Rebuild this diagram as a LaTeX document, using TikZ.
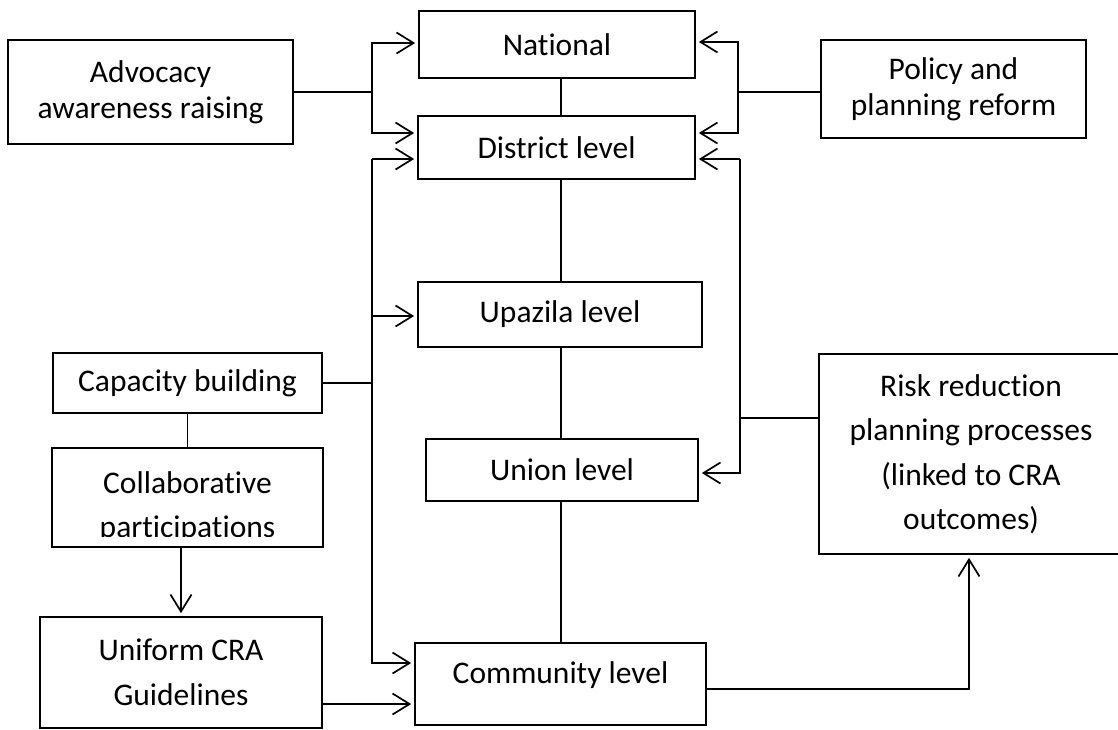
\documentclass[tikz,border=0pt]{standalone}
\usepackage{fontspec}
\setmainfont{Carlito}[Ligatures={NoCommon}]
\usetikzlibrary{arrows.meta}
\begin{document}
\begin{tikzpicture}[x=1pt,y=-1pt,
  line width=1.7pt,
  >={Straight Barb[length=17pt,width=21pt]},
  box/.style={draw, rectangle, inner sep=0pt, align=center,
              font=\fontsize{31.5}{44.5}\selectfont},
  tightbox/.style={box, font=\fontsize{31.5}{36}\selectfont},
  lbl/.style={inner sep=0pt, align=center, font=\fontsize{31.5}{44}\selectfont},
  arr/.style={->, shorten >=3pt}]

\useasboundingbox (0,0) rectangle (1118,729);
\fill[white] (0,0) rectangle (1118,729);
\clip (0,0) rectangle (1118,729);

% ---- administrative levels (centre column) ----
\node[box, minimum width=276, minimum height=67] (nat)   at (557,44.5)  {National};
\node[box, minimum width=277, minimum height=63] (dist)  at (556.5,147.5) {District level};
\node[box, minimum width=284, minimum height=65] (upa)   at (560,314.5) {Upazila level};
\node[box, minimum width=272, minimum height=62] (uni)   at (562,470)   {Union level};
\node[box, minimum width=291, minimum height=82] (comm)  at (560.5,684) {};
\node[lbl] (commtext) at (560.5,675) {Community level};

% ---- side boxes ----
\node[tightbox, minimum width=285, minimum height=104] (adv) at (150.5,92) {Advocacy\\awareness raising};
\node[tightbox, minimum width=265, minimum height=98]  (pol) at (953.5,89) {Policy and\\planning reform};
\node[box, minimum width=269, minimum height=60]  (cap)   at (187.5,383)  {Capacity building};
\node[box, minimum width=271, minimum height=99]  (collab) at (187.5,497.5) {};
\begin{scope}
  \clip (52,448) rectangle (323,536);
  \node[lbl] (collabtext) at (187.5,507) {Collaborative\\participations};
\end{scope}
\node[box, minimum width=282, minimum height=111] (unif) at (181,672.5) {Uniform CRA\\Guidelines};
\node[box, minimum width=304, minimum height=200] (risk) at (971,454)
  {Risk reduction\\planning processes\\(linked to CRA\\outcomes)};

% ---- vertical links between levels ----
\coordinate (spine) at (561,0);
\draw (nat.south -| spine)  -- (dist.north -| spine);
\draw (dist.south -| spine) -- (upa.north -| spine);
\draw (upa.south -| spine)  -- (uni.north -| spine);
\draw (uni.south -| spine)  -- (comm.north -| spine);

% ---- advocacy to national / district ----
\coordinate (aj) at (372,92);
\draw (adv.east) -- (aj);
\draw[arr] (aj) |- ([yshift=1.5pt]nat.west);
\draw[arr] (aj) |- ([yshift=14.5pt]dist.west);

% ---- policy to national / district ----
\coordinate (rj) at (738,92);
\draw ([yshift=-3pt]pol.west) -- (rj);
\draw[arr] (rj) |- ([yshift=2.5pt]nat.east);
\draw[arr] (rj) |- ([yshift=14.5pt]dist.east);

% ---- capacity building bus (left) ----
\coordinate (lbtop) at (372,159);
\coordinate (cin1) at ([yshift=21pt]comm.west);
\coordinate (upin) at ([yshift=-1.5pt]upa.west);
\draw[arr] (lbtop) -- ([yshift=-11.5pt]dist.west);
\draw[arr] (lbtop) -- (lbtop |- cin1) -- (cin1);
\draw[arr] (upin -| lbtop) -- (upin);
\draw (cap.east) -- (cap.east -| lbtop);

% ---- risk reduction bus (right) ----
\coordinate (rbtop) at (740,159);
\coordinate (rjoin) at ([yshift=36pt]risk.west);
\draw[arr] (rbtop) -- ([yshift=-11.5pt]dist.east);
\draw[arr] (rbtop) |- ([yshift=-3pt]uni.east);
\draw (rjoin) -- (rjoin -| rbtop);

% ---- left column chain ----
\draw (cap.south) -- (collab.north);
\draw[arr] (collab.south -| unif.north) -- (unif.north);
\coordinate (cin2) at ([yshift=-20pt]comm.west);
\draw[arr] (cin2 -| unif.east) -- (cin2);

% ---- community to risk reduction ----
\coordinate (cout) at ([yshift=-5pt]comm.east);
\draw[arr] (cout) -| ([xshift=-2pt]risk.south);
\end{tikzpicture}
\end{document}
